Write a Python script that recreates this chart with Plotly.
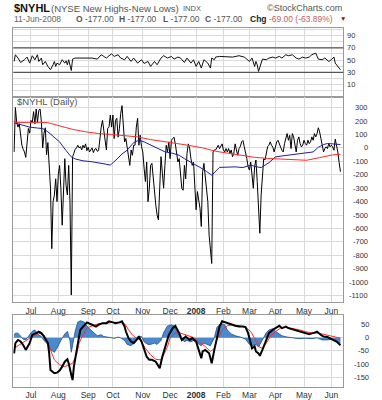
import plotly.graph_objects as go

# ---------------- data ----------------
# $NYHL daily values, one per trading day (13-Jun-2007 .. 11-Jun-2008)
NYHL = [
    -30, 300, 190, 155, 180, 90, 20, -10, -30, -70, 70, 145,
    110, 205, 190, 270, 180, 290, 190, 280, 290, 195, 0, 110,
    150, -50, 40, -100, -300, -750, -400, -350, -230, -400, -200, -130,
    -300, -575, -300, -80, -280, -350, -130, -400, -1095, -65, -40, -10,
    0, 20, 0, 10, -15, 20, 0, 30, -20, 5, -30, -10,
    0, -35, -10, -5, -25, -20, 100, 155, 205, 120, 80, -15,
    145, 155, 245, 155, 245, 70, 205, 220, 80, 145, 255, 315,
    170, 45, 70, 10, -40, -130, -15, -55, 20, 20, 155, 220,
    20, 95, 10, -30, -150, -250, -105, -400, -300, -130, -115, -230,
    -325, -425, -500, -535, -300, -65, -180, -300, -130, 20, -30, 45,
    -80, 55, 70, 80, 30, -40, -105, -80, -200, -300, -315, -130,
    -230, -40, 30, 0, -80, -130, -105, -300, -460, -325, -375, -450,
    -585, -180, -115, -200, -325, -400, -650, -770, -860, -30, -15, -15,
    10, 20, -5, 20, 30, -15, -30, -5, -30, -5, -40, -15,
    -65, -40, 30, -15, -55, -5, 10, 45, 55, 10, -30, -80,
    -140, -165, -105, -200, -300, -140, -90, -250, -450, -635, -350, -180,
    -80, -90, -30, 10, 20, 45, 20, 5, -30, 20, 45, 57,
    20, 5, -17, -30, 32, 69, 107, 57, 94, -5, 107, 82,
    8, -30, 57, 82, 32, 8, 20, 57, 32, 20, 57, 32,
    45, 82, 57, 107, 82, 107, 150, 119, 69, 20, -30, -5,
    8, -5, 32, 8, 20, 8, -17, 65, 20, -30, -108, -177,
]

# moving averages (sampled trading-day index, value)
RED_DAY = [0, 10, 20, 26, 35, 45, 55, 65, 75, 85, 95, 105, 115, 125, 135,
           145, 155, 165, 175, 185, 195, 205, 215, 225, 235, 245, 251]
RED_VAL = [190, 192, 190, 188, 165, 138, 120, 107, 100, 92, 82, 62, 45, 33, 18,
           0, -25, -40, -55, -70, -78, -82, -90, -92, -72, -52, -47]

BLUE_DAY = [0, 6, 12, 18, 22, 26, 30, 35, 40, 44, 47, 53, 60, 66, 70, 74, 77,
            80, 83, 87, 92, 96, 100, 104, 108, 112, 116, 122, 127, 131, 135,
            139, 143, 148, 152, 158, 165, 170, 176, 182, 186, 190, 196, 201,
            206, 211, 216, 222, 226, 230, 234, 238, 241, 245, 251]
BLUE_VAL = [187, 172, 155, 148, 144, 120, 85, 45, -20, -67, -82, -96, -103,
            -110, -120, -128, -105, -75, -45, -17, 40, 57, 45, 25, 8, -10, -29,
            -40, -55, -80, -100, -120, -145, -175, -203, -145, -140, -141, -146,
            -128, -140, -146, -110, -67, -60, -54, -48, -42, -38, -30, 5, 25,
            33, 30, 25]

# RSI(14) samples
RSI_DAY = [0, 1, 3, 5, 8, 10, 12, 14, 16, 18, 19, 21, 22, 24, 26, 28, 30, 31,
           32, 33, 35, 37, 39, 40, 41, 42, 44, 45, 47, 50, 55, 60, 64, 67, 69,
           71, 73, 75, 77, 80, 82, 85, 87, 90, 92, 95, 98, 100, 103, 105, 108,
           110, 113, 115, 118, 121, 123, 126, 128, 131, 133, 136, 138, 140,
           142, 144, 146, 149, 151, 152, 154, 155, 158, 163, 168, 173, 177,
           179, 181, 183, 185, 186, 187, 188, 190, 191, 194, 196, 199, 201,
           204, 206, 209, 211, 214, 217, 219, 222, 224, 227, 229, 232, 234,
           237, 239, 242, 244, 246, 247, 249, 251]
RSI_VAL = [47.8, 58.7, 53.3, 46.2, 50.6, 54.9, 45.1, 57.1, 50.6, 58.7, 47.8,
           53.3, 42.4, 47.8, 39.7, 34.3, 42.4, 47.8, 39.7, 45.1, 42.4, 50.6,
           45.1, 48.9, 42.4, 50.6, 33.0, 51.6, 53.3, 53.3, 52.5, 53.3, 51.6,
           58.7, 56.0, 53.3, 57.1, 60.0, 56.0, 58.7, 53.3, 50.6, 56.0, 47.8,
           53.3, 45.1, 50.6, 44.5, 47.8, 39.7, 47.8, 42.4, 53.3, 57.1, 53.3,
           56.0, 51.6, 54.9, 53.3, 46.2, 53.3, 45.1, 50.6, 39.7, 47.8, 37.0,
           50.6, 45.1, 37.0, 53.3, 50.6, 54.9, 56.0, 56.0, 54.9, 57.1, 54.9,
           51.6, 47.8, 53.3, 39.7, 47.8, 42.4, 31.6, 47.8, 51.6, 50.6, 53.3,
           54.9, 53.3, 56.0, 53.3, 58.7, 57.1, 58.7, 53.3, 51.6, 54.9, 53.3,
           54.9, 58.7, 61.4, 51.6, 50.6, 53.3, 47.8, 50.6, 54.9, 45.1, 40.0,
           34.3]

# MACD line samples
MACD_DAY = [0, 1, 3, 5, 7, 9, 12, 14, 17, 19, 21, 23, 26, 27, 28, 31, 33, 35,
            37, 39, 41, 42, 44, 45, 46, 48, 50, 51, 54, 56, 60, 63, 65, 68, 71,
            73, 76, 78, 81, 83, 85, 86, 88, 90, 92, 94, 96, 98, 100, 102, 104,
            106, 109, 111, 112, 114, 117, 119, 122, 124, 127, 129, 132, 135,
            137, 140, 142, 144, 145, 147, 150, 152, 154, 156, 158, 160, 163,
            165, 168, 170, 173, 176, 178, 180, 182, 183, 185, 186, 188, 189,
            191, 194, 196, 199, 201, 204, 206, 209, 211, 214, 217, 219, 222,
            224, 227, 231, 233, 236, 238, 241, 243, 246, 248, 251]
MACD_VAL = [-59, -20, -8, -14, -27, -46, -20, 11, 18, 24, 18, 5, -20, -59,
            -123, -135, -133, -125, -110, -91, -82, -97, -142, -161, -110, -46,
            5, 31, 50, 59, 50, 43, 50, 56, 56, 63, 59, 56, 59, 63, 43, 24, -1,
            -14, -20, -8, 3, -14, -46, -72, -84, -84, -91, -110, -116, -72,
            -27, 11, 37, 46, 18, -8, 5, -8, -1, -14, -46, -78, -52, -46, -59,
            -97, -46, 5, 43, 63, 59, 54, 50, 46, 43, 43, 41, 18, -20, -40, -33,
            -52, -59, -69, -46, -8, 18, 31, 37, 46, 37, 43, 37, 33, 28, 24, 20,
            18, 14, 20, 24, 11, 5, 3, -1, -8, -14, -28]

# signal line samples
SIG_DAY = [0, 4, 9, 14, 19, 23, 27, 31, 35, 39, 42, 45, 48, 50, 53, 56, 60,
           65, 71, 76, 81, 85, 88, 91, 94, 97, 101, 105, 109, 113, 115, 118,
           120, 124, 128, 132, 137, 142, 147, 151, 154, 156, 160, 164, 168,
           173, 178, 182, 185, 188, 191, 194, 197, 201, 205, 209, 214, 219,
           224, 229, 234, 240, 245, 251]
SIG_VAL = [-40, -27, -14, 5, 18, 11, -33, -84, -103, -110, -103, -97, -65,
           -20, 11, 37, 46, 54, 56, 59, 59, 54, 31, 11, -1, -8, -40, -65, -82,
           -84, -65, -33, -1, 20, 18, 11, 3, -14, -33, -52, -40, -8, 31, 46,
           50, 46, 41, 24, -1, -33, -40, -20, 5, 24, 37, 41, 37, 31, 24, 18,
           18, 11, 8, -1]

# histogram samples
HIST_DAY = [0, 1, 3, 5, 7, 9, 12, 14, 16, 18, 21, 23, 26, 28, 31, 33, 36, 39,
            41, 43, 44, 45, 47, 49, 51, 54, 56, 59, 62, 64, 67, 69, 73, 77,
            80, 82, 85, 87, 90, 92, 95, 98, 100, 103, 105, 108, 110, 113, 115,
            118, 121, 123, 126, 128, 131, 133, 136, 138, 141, 144, 146, 149,
            151, 154, 156, 159, 162, 164, 167, 170, 174, 178, 181, 183, 186,
            188, 191, 194, 196, 199, 201, 204, 206, 210, 214, 219, 224, 229,
            233, 237, 241, 245, 248, 251]
HIST_VAL = [10, 18, 18, 8, -5, -8, 10, 25, 30, 15, 5, -10, -25, -45, -55, -40,
            -10, 15, 25, -10, -55, -30, 25, 60, 65, 60, 45, 30, 15, 8, 12, 5,
            2, -2, 3, 0, -10, -25, -30, -20, 5, 5, -15, -25, -25, -20, -25,
            -10, 20, 45, 50, 45, 20, 0, -15, -10, -15, -10, -20, -30, -20, -25,
            -30, 0, 40, 55, 50, 30, 15, 8, 3, -5, -25, -30, -25, -35, -10, 20,
            30, 35, 25, 15, 8, 3, 0, -3, -2, -3, 0, -8, -8, -5, -12, -20]

# axis ticks
MONTH_DAY = [13, 34, 57, 76, 99, 120, 140, 161, 181, 201, 223, 244]
MONTH_LBL = ['Jul', 'Aug', 'Sep', 'Oct', 'Nov', 'Dec', '<b>2008</b>',
             'Feb', 'Mar', 'Apr', 'May', 'Jun']
RSI_TICKS = [90, 70, 50, 30, 10]
RSI_GRID = [0, 10, 20, 30, 40, 50, 60, 70, 80, 90, 100]
RSI_LEVELS = [30, 70]
MAIN_TICKS = [300, 200, 100, 0, -100, -200, -300, -400, -500, -600, -700,
              -800, -900, -1000, -1100]
MACD_TICKS = [50, 0, -50, -100, -150]

# ---------------- layout helpers ----------------
W, H = 382, 400
FONT = 'Liberation Sans, Arial, sans-serif'


def fx(px):
    return px / W


def fy(py):
    return 1 - py / H


XDOM = [fx(13.3), fx(343.3)]
XR = [-0.6, 253.2]
GRID = '#dadada'
FRAME = '#9a9a9a'

fig = go.Figure()
days = list(range(len(NYHL)))

# RSI panel
fig.add_trace(go.Scatter(x=RSI_DAY, y=RSI_VAL, mode='lines',
                         line=dict(color='#111111', width=1),
                         xaxis='x', yaxis='y'))
# main panel
fig.add_trace(go.Scatter(x=days, y=NYHL, mode='lines',
                         line=dict(color='#000000', width=1.0),
                         xaxis='x2', yaxis='y2'))
fig.add_trace(go.Scatter(x=BLUE_DAY, y=BLUE_VAL, mode='lines',
                         line=dict(color='#1f1f9a', width=1),
                         xaxis='x2', yaxis='y2'))
fig.add_trace(go.Scatter(x=RED_DAY, y=RED_VAL, mode='lines',
                         line=dict(color='#ff2a2a', width=1),
                         xaxis='x2', yaxis='y2'))
# MACD panel
fig.add_trace(go.Scatter(x=HIST_DAY, y=HIST_VAL, mode='lines', fill='tozeroy',
                         line=dict(color='#1b4f8f', width=0.8),
                         fillcolor='#4a8acc', xaxis='x3', yaxis='y3'))
fig.add_trace(go.Scatter(x=SIG_DAY, y=SIG_VAL, mode='lines',
                         line=dict(color='#ff2a2a', width=1),
                         xaxis='x3', yaxis='y3'))
fig.add_trace(go.Scatter(x=MACD_DAY, y=MACD_VAL, mode='lines',
                         line=dict(color='#000000', width=2),
                         xaxis='x3', yaxis='y3'))

xcommon = dict(domain=XDOM, range=XR, tickvals=MONTH_DAY, ticktext=MONTH_LBL,
               showgrid=True, gridcolor=GRID, gridwidth=1, zeroline=False,
               showline=True, mirror=True, linecolor=FRAME, linewidth=1,
               ticks='', tickfont=dict(family=FONT, size=8.5, color='#333333'))
ycommon = dict(showgrid=True, gridcolor=GRID, gridwidth=1, zeroline=False,
               showline=True, mirror=True, linecolor=FRAME, linewidth=1,
               showticklabels=False, ticks='')

fig.update_layout(
    width=W, height=H, margin=dict(l=0, r=0, t=0, b=0),
    paper_bgcolor='white', plot_bgcolor='white', showlegend=False,
    hovermode=False,
    xaxis=dict(xcommon, anchor='y', showticklabels=False),
    xaxis2=dict(xcommon, anchor='y2', showticklabels=True),
    xaxis3=dict(xcommon, anchor='y3', showticklabels=True),
    yaxis=dict(ycommon, domain=[fy(97), fy(27.5)], range=[-10, 103],
               tickvals=RSI_GRID, anchor='x'),
    yaxis2=dict(ycommon, domain=[fy(302.3), fy(97)], range=[-1149, 379],
                tickvals=MAIN_TICKS, anchor='x2'),
    yaxis3=dict(ycommon, domain=[fy(387), fy(315)], range=[-187.6, 87.2],
                tickvals=MACD_TICKS, anchor='x3'),
)

# RSI 30/70 reference lines
for lv in RSI_LEVELS:
    fig.add_shape(type='line', xref='x domain', yref='y', x0=0, x1=1,
                  y0=lv, y1=lv, line=dict(color='#555555', width=1.2))

# y tick labels
tickfont = dict(family=FONT, size=7.5, color='#333333')
for v in RSI_TICKS:
    fig.add_annotation(x=fx(345), y=v, xref='paper', yref='y', text=str(v),
                       showarrow=False, xanchor='left', yanchor='middle',
                       font=tickfont)
for v in MAIN_TICKS:
    fig.add_annotation(x=fx(370), y=v, xref='paper', yref='y2', text=str(v),
                       showarrow=False, xanchor='right', yanchor='middle',
                       font=tickfont)
for v in MACD_TICKS:
    fig.add_annotation(x=fx(371), y=v, xref='paper', yref='y3', text=str(v),
                       showarrow=False, xanchor='right', yanchor='middle',
                       font=tickfont)


def label(xp, yp, text, size, color='#333333', anchor='left'):
    fig.add_annotation(x=fx(xp), y=fy(yp), xref='paper', yref='paper',
                       text=text, showarrow=False, xanchor=anchor,
                       yanchor='middle', font=dict(family=FONT, size=size,
                                                   color=color))


# header
label(12, 7.5, '<b>$NYHL</b>', 11, '#111111')
label(49, 8, '(NYSE New Highs-New Lows)', 9.5, '#555555')
label(181, 8.5, 'INDX', 7.5, '#555555')
label(343.5, 8, '©StockCharts.com', 9, '#555555', anchor='right')
label(12, 18.5, '11-Jun-2008', 8.5, '#666666')
label(74, 18.5, '<b>O</b> -177.00', 8.5, '#555555')
label(117, 18.5, '<b>H</b> -177.00', 8.5, '#555555')
label(160.5, 18.5, '<b>L</b> -177.00', 8.5, '#555555')
label(203, 18.5, '<b>C</b> -177.00', 8.5, '#555555')
label(248, 18.5, '<b>Chg</b> <span style="color:#c06060">-69.00 (-63.89%)</span>',
      8.5, '#222222')
label(338, 18.5, '▼', 6.5, '#a01010')
label(15, 101.7, '$NYHL (Daily)', 9.5, '#555555')

fig.write_html(
    'out.html',
    config={'displayModeBar': False, 'staticPlot': True},
    post_script=("document.body.style.margin='0';"
                 "document.body.style.padding='0';"
                 "document.documentElement.style.overflow='hidden';"),
)
